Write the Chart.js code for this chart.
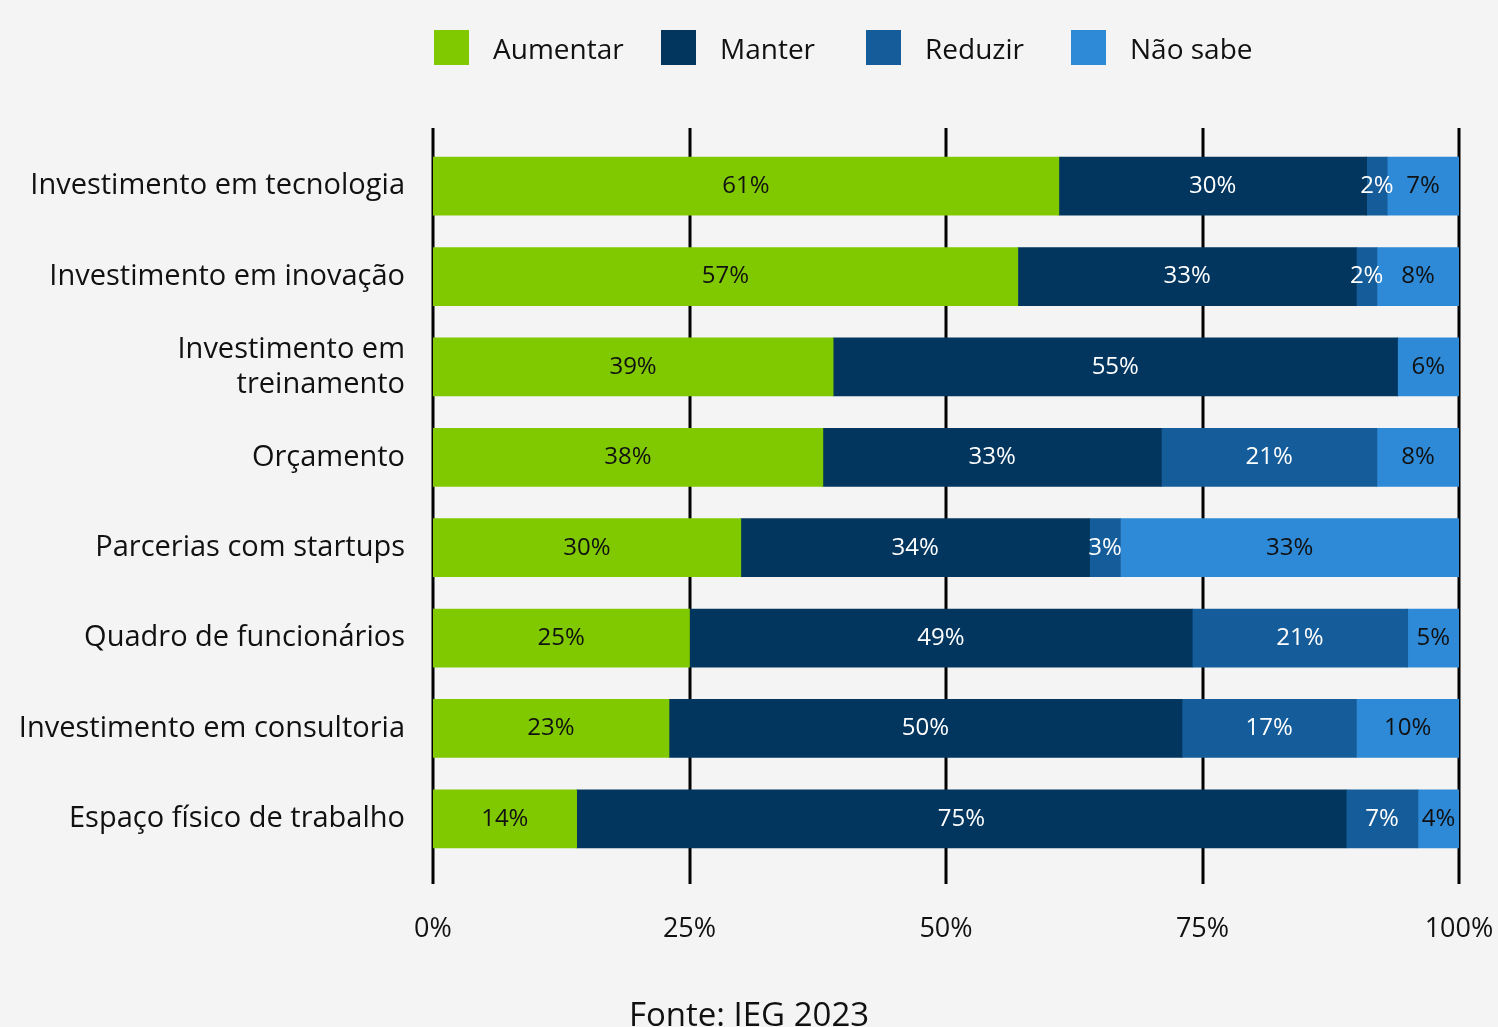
<!DOCTYPE html>
<html>
<head>
<meta charset="utf-8">
<script src="https://cdn.jsdelivr.net/npm/chart.js@4/dist/chart.umd.min.js"></script>
<style>
  html, body { margin: 0; padding: 0; background: #f4f4f4; }
  #wrap { position: relative; width: 1498px; height: 1027px; overflow: hidden; font-family: 'Open Sans', sans-serif; }
  #legend { position: absolute; top: 30px; left: 434px; display: flex; }
  .item { display: flex; align-items: center; height: 35px; }
  .item .box { width: 35px; height: 35px; margin-right: 24px; }
  .item span { font-size: 28px; color: #111; }
  .item:nth-child(1) { width: 227px; }
  .item:nth-child(2) { width: 205px; }
  .item:nth-child(3) { width: 205px; }
  #fonte { position: absolute; left: 0; width: 1498px; top: 994px; text-align: center; font-size: 33px; color: #111; line-height: 1.2; }
</style>
</head>
<body>
<div id="wrap">
  <canvas id="chart" width="1498" height="1027"></canvas>
  <div id="legend"></div>
  <div id="fonte">Fonte: IEG 2023</div>
</div>
<script>
const categories = [
  'Investimento em tecnologia',
  'Investimento em inovação',
  ['Investimento em', 'treinamento'],
  'Orçamento',
  'Parcerias com startups',
  'Quadro de funcionários',
  'Investimento em consultoria',
  'Espaço físico de trabalho'
];
const seriesNames = ['Aumentar', 'Manter', 'Reduzir', 'Não sabe'];
const aumentar = [61, 57, 39, 38, 30, 25, 23, 14];
const manter   = [30, 33, 55, 33, 34, 49, 50, 75];
const reduzir  = [2, 2, 0, 21, 3, 21, 17, 7];
const naoSabe  = [7, 8, 6, 8, 33, 5, 10, 4];
const xTicks = [0, 25, 50, 75, 100];

const colors = ['#80c900', '#02365f', '#155c9a', '#2e89d6'];
const labelColors = ['#111', '#fff', '#fff', '#111'];
const FONT = "'Open Sans', sans-serif";

// legend (html)
const legendEl = document.getElementById('legend');
seriesNames.forEach((name, i) => {
  const d = document.createElement('div');
  d.className = 'item';
  d.innerHTML = `<div class="box" style="background:${colors[i]}"></div><span>${name}</span>`;
  legendEl.appendChild(d);
});

const gridPlugin = {
  id: 'gridLines',
  beforeDatasetsDraw(chart) {
    const { ctx, chartArea, scales } = chart;
    ctx.save();
    ctx.strokeStyle = '#000';
    ctx.lineWidth = 3;
    for (const v of xTicks) {
      const x = Math.round(scales.x.getPixelForValue(v));
      ctx.beginPath();
      ctx.moveTo(x, chartArea.top - 13);
      ctx.lineTo(x, chartArea.bottom + 20);
      ctx.stroke();
    }
    ctx.restore();
  }
};

const valueLabels = {
  id: 'valueLabels',
  afterDatasetsDraw(chart) {
    const ctx = chart.ctx;
    ctx.save();
    ctx.font = `24px ${FONT}`;
    ctx.textAlign = 'center';
    ctx.textBaseline = 'middle';
    chart.data.datasets.forEach((ds, di) => {
      const meta = chart.getDatasetMeta(di);
      meta.data.forEach((bar, i) => {
        const v = ds.data[i];
        if (!v) return;
        const p = bar.getCenterPoint();
        ctx.fillStyle = labelColors[di];
        ctx.fillText(v + '%', p.x, p.y);
      });
    });
    ctx.restore();
  }
};

const seriesData = [aumentar, manter, reduzir, naoSabe];

new Chart(document.getElementById('chart'), {
  type: 'bar',
  data: {
    labels: categories,
    datasets: seriesNames.map((name, i) => ({
      label: name,
      data: seriesData[i],
      backgroundColor: colors[i],
      borderWidth: 0,
      barThickness: 58
    }))
  },
  options: {
    indexAxis: 'y',
    responsive: false,
    animation: false,
    layout: { padding: { top: 141, right: 39, bottom: 0, left: 0 } },
    plugins: {
      legend: { display: false },
      tooltip: { enabled: false }
    },
    scales: {
      x: {
        stacked: true,
        min: 0,
        max: 100,
        afterBuildTicks(scale) { scale.ticks = xTicks.map(v => ({ value: v })); },
        afterFit(scale) {
          scale.height = 163;
          scale.paddingLeft = 0;
          scale.paddingRight = 0;
        },
        grid: { display: false, drawTicks: false },
        border: { display: false },
        ticks: {
          padding: 49,
          color: '#111',
          font: { family: FONT, size: 27 },
          maxRotation: 0,
          callback: v => v + '%'
        }
      },
      y: {
        stacked: true,
        afterFit(scale) { scale.width = 433; },
        grid: { display: false, drawTicks: false },
        border: { display: false },
        ticks: {
          padding: 28,
          color: '#111',
          font: { family: FONT, size: 29, lineHeight: 1.2 }
        }
      }
    }
  },
  plugins: [gridPlugin, valueLabels]
});
</script>
</body>
</html>
